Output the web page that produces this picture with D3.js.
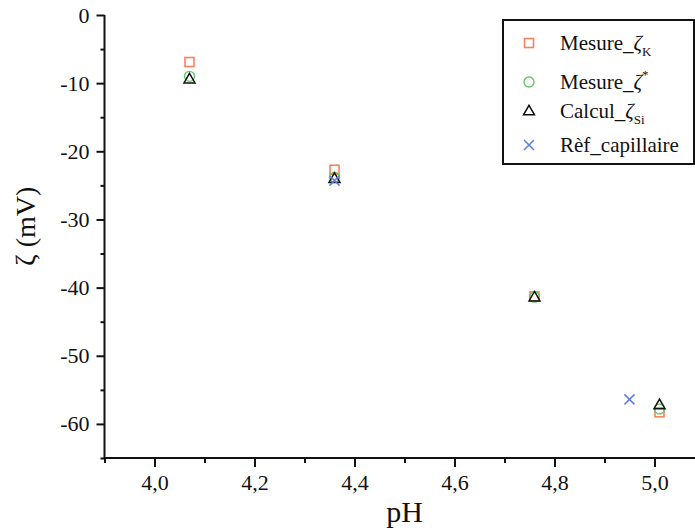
<!DOCTYPE html>
<html>
<head>
<meta charset="utf-8">
<script src="https://cdn.jsdelivr.net/npm/d3@7/dist/d3.min.js"></script>
<style>
  html, body { margin: 0; padding: 0; background: #fff; }
  svg { display: block; }
  text { font-family: "Liberation Serif", "Times New Roman", serif; fill: #111; }
</style>
</head>
<body>
<svg id="chart" width="695" height="530"></svg>
<script>
// ---- data ----
const mesureK_pH   = [4.07, 4.36, 4.76, 5.01];
const mesureK_z    = [-6.9, -22.7, -41.3, -58.3];
const mesureStar_pH = [4.07, 4.36, 4.76, 5.01];
const mesureStar_z  = [-9.0, -23.8, -41.4, -57.8];
const calculSi_pH  = [4.07, 4.36, 4.76, 5.01];
const calculSi_z   = [-9.4, -24.0, -41.4, -57.2];
const refCap_pH    = [4.36, 4.95];
const refCap_z     = [-24.3, -56.4];

const xMajorTicks = [4.0, 4.2, 4.4, 4.6, 4.8, 5.0];
const xMinorTicks = [3.9, 4.1, 4.3, 4.5, 4.7, 4.9, 5.1];
const yMajorTicks = [0, -10, -20, -30, -40, -50, -60];
const yMinorTicks = [-5, -15, -25, -35, -45, -55, -65];

const legendLabels = [
  {main: "Mesure_", greek: "ζ", sub: "K", sup: null},
  {main: "Mesure_", greek: "ζ", sub: null, sup: "*"},
  {main: "Calcul_", greek: "ζ", sub: "Si", sup: null},
  {main: "Rèf_capillaire", greek: null, sub: null, sup: null}
];

// ---- layout ----
const svg = d3.select("#chart");
const x = d3.scaleLinear().domain([3.9, 5.1]).range([104.5, 704.5]);
const y = d3.scaleLinear().domain([0, -65]).range([15, 458]);

const fmtX = d => d3.format(".1f")(d).replace(".", ",");
const fmtY = d => String(d);

const SERIF = '"Liberation Serif", "Times New Roman", serif';

// axes
const xAxisG = svg.append("g").attr("transform", `translate(0,${y(-65)})`);
xAxisG.call(d3.axisBottom(x).tickValues(xMajorTicks).tickFormat(fmtX).tickSize(9).tickPadding(7));
const xMinorG = svg.append("g").attr("transform", `translate(0,${y(-65)})`);
xMinorG.call(d3.axisBottom(x).tickValues(xMinorTicks).tickFormat("").tickSize(5));

const yAxisG = svg.append("g").attr("transform", `translate(${x(3.9)},0)`);
yAxisG.call(d3.axisLeft(y).tickValues(yMajorTicks).tickFormat(fmtY).tickSize(8).tickPadding(7));
const yMinorG = svg.append("g").attr("transform", `translate(${x(3.9)},0)`);
yMinorG.call(d3.axisLeft(y).tickValues(yMinorTicks).tickFormat("").tickSize(4));

[xAxisG, xMinorG, yAxisG, yMinorG].forEach(g => {
  g.attr("font-family", SERIF).attr("font-size", 22);
  g.select(".domain").attr("stroke", "#111").attr("stroke-width", 2);
  g.selectAll(".tick line").attr("stroke", "#111").attr("stroke-width", 2);
  g.selectAll(".tick text").attr("fill", "#111")
    .style("font-family", SERIF).style("font-size", "22px");
});
yMinorG.select(".domain").remove();
xMinorG.select(".domain").remove();
yAxisG.select(".domain").attr("d", `M0,${y(0)}V${y(-65)}`);
xAxisG.select(".domain").attr("d", `M${x(3.9)},0H${x(5.1)}`);

// axis titles
svg.append("text").attr("x", x(4.5)).attr("y", 522).attr("text-anchor", "middle")
  .attr("font-size", 30).text("pH");
svg.append("text").attr("transform", `translate(35,${y(-31)}) rotate(-90)`)
  .attr("text-anchor", "middle").attr("font-size", 28).text("ζ (mV)");

// ---- markers ----
const orange = "#f8825f", green = "#66c866", blue = "#5a80e6", black = "#111";
const sq = 9, tri = 11, cr = 5;

function drawSquare(g, cx, cy) {
  g.append("rect").attr("x", cx - sq / 2).attr("y", cy - sq / 2).attr("width", sq).attr("height", sq)
    .attr("fill", "none").attr("stroke", orange).attr("stroke-width", 1.6);
}
function drawCircle(g, cx, cy) {
  g.append("circle").attr("cx", cx).attr("cy", cy).attr("r", 5)
    .attr("fill", "none").attr("stroke", green).attr("stroke-width", 1.4);
}
function drawTriangle(g, cx, cy) {
  const h = tri * 0.87;
  g.append("path").attr("d", `M${cx},${cy - h * 0.6}L${cx + tri / 2},${cy + h * 0.4}L${cx - tri / 2},${cy + h * 0.4}Z`)
    .attr("fill", "none").attr("stroke", black).attr("stroke-width", 1.5);
}
function drawCross(g, cx, cy) {
  g.append("path").attr("d", `M${cx - cr},${cy - cr}L${cx + cr},${cy + cr}M${cx - cr},${cy + cr}L${cx + cr},${cy - cr}`)
    .attr("fill", "none").attr("stroke", blue).attr("stroke-width", 1.5);
}

const pts = svg.append("g");
mesureK_pH.forEach((p, i) => drawSquare(pts, x(p), y(mesureK_z[i])));
mesureStar_pH.forEach((p, i) => drawCircle(pts, x(p), y(mesureStar_z[i])));
calculSi_pH.forEach((p, i) => drawTriangle(pts, x(p), y(calculSi_z[i])));
refCap_pH.forEach((p, i) => drawCross(pts, x(p), y(refCap_z[i])));

// ---- legend ----
const lg = svg.append("g");
lg.append("rect").attr("x", 503).attr("y", 20).attr("width", 191).attr("height", 144)
  .attr("fill", "#fff").attr("stroke", "#111").attr("stroke-width", 2);
const rowY = [43, 82, 111, 145];
const drawers = [drawSquare, drawCircle, drawTriangle, drawCross];
legendLabels.forEach((L, i) => {
  drawers[i](lg, 529, rowY[i]);
  const t = lg.append("text").attr("x", 560).attr("y", rowY[i] + 7).attr("font-size", 21);
  t.append("tspan").text(L.main);
  if (L.greek) t.append("tspan").attr("font-style", "italic").text(L.greek);
  if (L.sub) t.append("tspan").attr("font-size", 13).attr("dy", 6).text(L.sub);
  if (L.sup) t.append("tspan").attr("font-size", 13).attr("dy", -10).text(L.sup);
});
</script>
</body>
</html>
